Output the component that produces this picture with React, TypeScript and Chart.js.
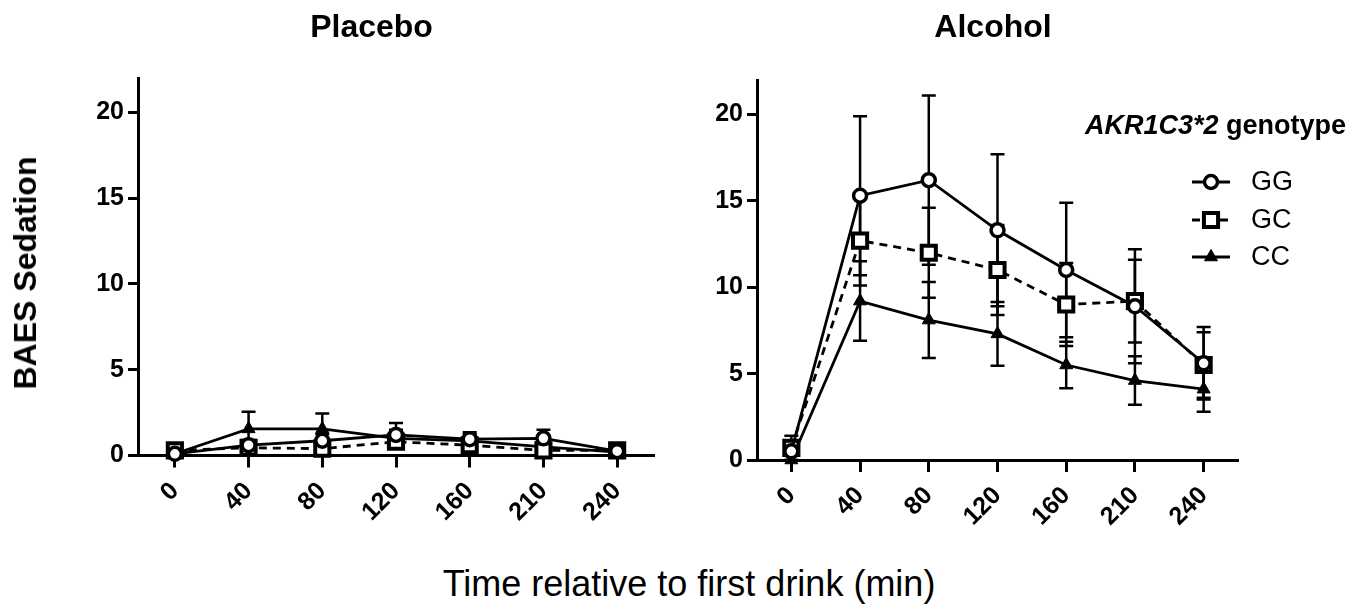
import React, { useEffect, useRef } from 'react';
import { Chart, registerables } from 'chart.js';

Chart.register(...registerables);

// ---------- data ----------
const TIMES = ['0', '40', '80', '120', '160', '210', '240'];
const Y_TICKS = [0, 5, 10, 15, 20];
const Y_MAX = 22;

const GROUPS = ['GG', 'GC', 'CC'];

// Placebo session
const P_GG = [0.1, 0.6, 0.86, 1.2, 0.95, 1.0, 0.25];
const P_GG_SE = [0.1, 0.3, 0.4, 0.7, 0.4, 0.5, 0.1];
const P_GC = [0.3, 0.45, 0.4, 0.8, 0.6, 0.3, 0.3];
const P_GC_SE = [0.1, 0.3, 0.3, 0.4, 0.3, 0.2, 0.1];
const P_CC = [0.1, 1.55, 1.55, 1.0, 0.85, 0.5, 0.2];
const P_CC_SE = [0.1, 1.0, 0.9, 0.5, 0.4, 0.3, 0.1];

// Alcohol session
const A_GG = [0.5, 15.3, 16.2, 13.3, 11.0, 8.9, 5.6];
const A_GG_SE = [0.5, 4.6, 4.9, 4.4, 3.9, 3.3, 2.1];
const A_GC = [0.7, 12.7, 12.0, 11.0, 9.0, 9.2, 5.5];
const A_GC_SE = [0.7, 2.6, 2.6, 2.6, 2.4, 2.4, 1.9];
const A_CC = [0.0, 9.2, 8.1, 7.3, 5.5, 4.6, 4.1];
const A_CC_SE = [0.0, 2.3, 2.2, 1.85, 1.35, 1.4, 1.3];

const FONT = '"Liberation Sans", Arial, Helvetica, sans-serif';

// ---------- plugins ----------
const errorBarPlugin = {
  id: 'errorBars',
  beforeDatasetsDraw(chart: any, _args: any, opts: any) {
    const errs: number[][] = opts.errors || [];
    const ctx = chart.ctx;
    const ys = chart.scales.y;
    chart.data.datasets.forEach((ds: any, i: number) => {
      const err = errs[i];
      if (!err) return;
      const meta = chart.getDatasetMeta(i);
      ctx.save();
      ctx.strokeStyle = '#000';
      ctx.lineWidth = 2.5;
      ctx.setLineDash([]);
      meta.data.forEach((pt: any, j: number) => {
        const v = ds.data[j];
        const e = err[j];
        if (!e) return;
        const px = pt.x;
        const top = ys.getPixelForValue(v + e);
        const bot = ys.getPixelForValue(Math.max(0, v - e));
        ctx.beginPath();
        ctx.moveTo(px, top);
        ctx.lineTo(px, bot);
        ctx.moveTo(px - 7, top);
        ctx.lineTo(px + 7, top);
        ctx.moveTo(px - 7, bot);
        ctx.lineTo(px + 7, bot);
        ctx.stroke();
      });
      ctx.restore();
    });
  },
};

function drawMarker(ctx: CanvasRenderingContext2D, style: string, r: number, x: number, y: number) {
  ctx.beginPath();
  if (style === 'circle') {
    ctx.arc(x, y, r, 0, Math.PI * 2);
  } else if (style === 'rect') {
    const s = Math.SQRT1_2 * r;
    ctx.rect(x - s, y - s, 2 * s, 2 * s);
  } else {
    const rad = -Math.PI / 2;
    for (let k = 0; k < 3; k++) {
      const a = rad + (k * 2 * Math.PI) / 3;
      const px = x + Math.cos(a) * r;
      const py = y + Math.sin(a) * r;
      if (k === 0) ctx.moveTo(px, py);
      else ctx.lineTo(px, py);
    }
  }
  ctx.closePath();
  ctx.fill();
  ctx.stroke();
}

const customLegendPlugin = {
  id: 'customLegend',
  afterDraw(chart: any, _args: any, opts: any) {
    if (!opts || !opts.show) return;
    const ctx = chart.ctx;
    const { titleX, titleY, lineX0, lineX1, textX, rows } = opts;
    ctx.save();
    ctx.fillStyle = '#000';
    ctx.textBaseline = 'middle';
    ctx.textAlign = 'left';
    ctx.font = `italic bold 27px ${FONT}`;
    const ital = 'AKR1C3*2';
    ctx.fillText(ital, titleX, titleY);
    const w = ctx.measureText(ital).width;
    ctx.font = `bold 27px ${FONT}`;
    ctx.fillText(' genotype', titleX + w, titleY);

    chart.data.datasets.forEach((ds: any, i: number) => {
      const y = rows[i];
      ctx.save();
      ctx.strokeStyle = '#000';
      ctx.lineWidth = 3;
      ctx.setLineDash(ds.borderDash || []);
      ctx.beginPath();
      ctx.moveTo(lineX0, y);
      ctx.lineTo(lineX1, y);
      ctx.stroke();
      ctx.restore();
      ctx.save();
      ctx.setLineDash([]);
      ctx.strokeStyle = '#000';
      ctx.fillStyle = ds.pointBackgroundColor;
      ctx.lineWidth = ds.pointBorderWidth;
      const mx = (lineX0 + lineX1) / 2;
      drawMarker(ctx, ds.pointStyle, ds.pointRadius, mx, y);
      ctx.restore();
      ctx.fillStyle = '#000';
      ctx.font = `27px ${FONT}`;
      ctx.fillText(ds.label, textX, y + 1);
    });
    ctx.restore();
  },
};

// ---------- config ----------
function makeDatasets(gg: number[], gc: number[], cc: number[]) {
  const base = {
    borderColor: '#000',
    borderWidth: 2.8,
    pointBorderColor: '#000',
    tension: 0,
    clip: false as any,
  };
  return [
    {
      ...base,
      label: GROUPS[0],
      data: gg,
      pointStyle: 'circle',
      pointRadius: 6.5,
      pointHoverRadius: 6.5,
      pointBorderWidth: 3.5,
      pointBackgroundColor: '#fff',
    },
    {
      ...base,
      label: GROUPS[1],
      data: gc,
      borderDash: [8, 6],
      pointStyle: 'rect',
      pointRadius: 10,
      pointHoverRadius: 10,
      pointBorderWidth: 4,
      pointBackgroundColor: '#fff',
    },
    {
      ...base,
      label: GROUPS[2],
      data: cc,
      pointStyle: 'triangle',
      pointRadius: 7.5,
      pointHoverRadius: 7.5,
      pointBorderWidth: 1,
      pointBackgroundColor: '#000',
    },
  ];
}

interface PanelSpec {
  canvasW: number;
  canvasH: number;
  yWidth: number;
  top: number;
  bottom: number;
  right: number;
  datasets: any[];
  errors: number[][];
  legend: any;
}

function makeConfig(p: PanelSpec): any {
  const tickFont = { family: FONT, size: 25, weight: 'bold' as const };
  return {
    type: 'line',
    data: { labels: TIMES, datasets: p.datasets },
    options: {
      responsive: false,
      animation: false,
      events: [],
      layout: { padding: { top: p.top, left: 0, right: p.canvasW - p.right, bottom: 0 } },
      plugins: {
        legend: { display: false },
        tooltip: { enabled: false },
        title: { display: false },
        errorBars: { errors: p.errors },
        customLegend: p.legend,
      },
      scales: {
        x: {
          type: 'category',
          offset: true,
          border: { display: true, color: '#000', width: 3 },
          grid: {
            display: true,
            drawOnChartArea: false,
            drawTicks: true,
            offset: false,
            color: '#000',
            tickColor: '#000',
            tickWidth: 3,
            tickLength: 12,
          },
          ticks: {
            color: '#000',
            font: tickFont,
            autoSkip: false,
            minRotation: 45,
            maxRotation: 45,
            padding: 9,
          },
          afterFit: (s: any) => {
            s.height = p.canvasH - p.bottom;
          },
        },
        y: {
          type: 'linear',
          min: 0,
          max: Y_MAX,
          border: { display: true, color: '#000', width: 3 },
          grid: {
            display: true,
            drawOnChartArea: false,
            drawTicks: true,
            color: '#000',
            tickColor: '#000',
            tickWidth: 3,
            tickLength: 10,
          },
          ticks: {
            color: '#000',
            font: tickFont,
            padding: 4,
          },
          afterBuildTicks: (s: any) => {
            s.ticks = Y_TICKS.map((v) => ({ value: v }));
          },
          afterFit: (s: any) => {
            s.width = p.yWidth;
          },
        },
      },
    },
    plugins: [errorBarPlugin, customLegendPlugin],
  };
}

function Panel({ left, spec }: { left: number; spec: PanelSpec }) {
  const ref = useRef<HTMLCanvasElement | null>(null);
  useEffect(() => {
    if (!ref.current) return;
    const chart = new Chart(ref.current, makeConfig(spec));
    return () => chart.destroy();
  }, []);
  return (
    <canvas
      ref={ref}
      width={spec.canvasW}
      height={spec.canvasH}
      style={{ position: 'absolute', left, top: 0, width: spec.canvasW, height: spec.canvasH }}
    />
  );
}

const LEFT_CANVAS_X = 0;
const RIGHT_CANVAS_X = 680;

const placeboSpec: PanelSpec = {
  canvasW: 680,
  canvasH: 560,
  yWidth: 138,
  top: 78,
  bottom: 455.5,
  right: 654,
  datasets: makeDatasets(P_GG, P_GC, P_CC),
  errors: [P_GG_SE, P_GC_SE, P_CC_SE],
  legend: { show: false },
};

const alcoholSpec: PanelSpec = {
  canvasW: 691,
  canvasH: 560,
  yWidth: 77,
  top: 80,
  bottom: 460,
  right: 558,
  datasets: makeDatasets(A_GG, A_GC, A_CC),
  errors: [A_GG_SE, A_GC_SE, A_CC_SE],
  legend: {
    show: true,
    titleX: 1085 - RIGHT_CANVAS_X,
    titleY: 127,
    lineX0: 1192 - RIGHT_CANVAS_X,
    lineX1: 1230 - RIGHT_CANVAS_X,
    textX: 1251 - RIGHT_CANVAS_X,
    rows: [182, 220, 257],
  },
};

const textBase: React.CSSProperties = {
  position: 'absolute',
  fontFamily: FONT,
  color: '#000',
  whiteSpace: 'nowrap',
  lineHeight: 1,
};

export default function App() {
  return (
    <div
      style={{
        position: 'absolute',
        left: 0,
        top: 0,
        width: 1371,
        height: 610,
        background: '#fff',
        overflow: 'hidden',
      }}
    >
      <Panel left={LEFT_CANVAS_X} spec={placeboSpec} />
      <Panel left={RIGHT_CANVAS_X} spec={alcoholSpec} />
      <div
        style={{
          ...textBase,
          fontSize: 32,
          fontWeight: 'bold',
          left: 371.5,
          top: 10,
          transform: 'translateX(-50%)',
        }}
      >
        Placebo
      </div>
      <div
        style={{
          ...textBase,
          fontSize: 32,
          fontWeight: 'bold',
          left: 993,
          top: 10,
          transform: 'translateX(-50%)',
        }}
      >
        Alcohol
      </div>
      <div
        style={{
          ...textBase,
          fontSize: 32,
          fontWeight: 'bold',
          left: 25,
          top: 273,
          transform: 'translate(-50%, -50%) rotate(-90deg)',
        }}
      >
        BAES Sedation
      </div>
      <div
        style={{
          ...textBase,
          fontSize: 36,
          left: 689,
          top: 566,
          transform: 'translateX(-50%)',
        }}
      >
        Time relative to first drink (min)
      </div>
    </div>
  );
}
